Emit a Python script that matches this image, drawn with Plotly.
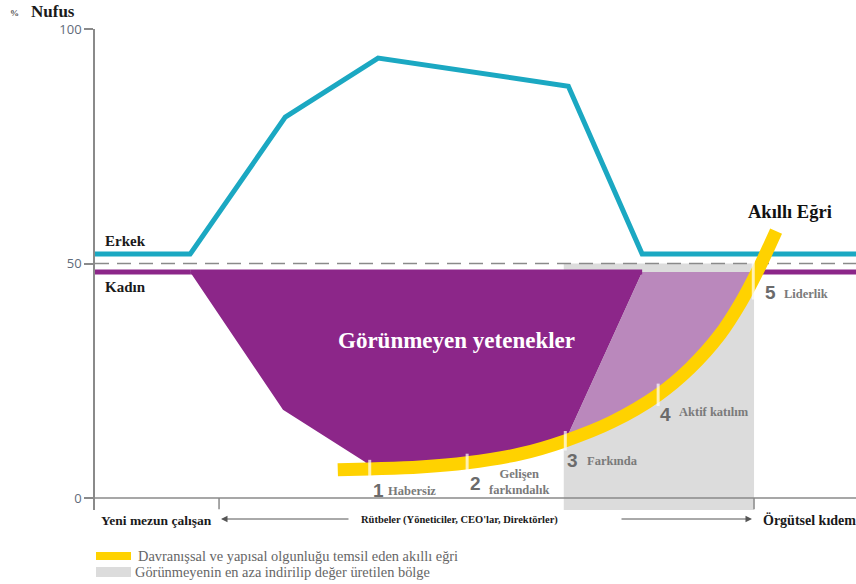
import plotly.graph_objects as go

# ---------------- data ----------------
# x: career position (0 = new graduate ... 100 = senior), y: % of population
erkek_x = [0, 12.5, 25.0, 37.2, 62.2, 71.9, 100]
erkek_y = [52, 52, 81.2, 93.8, 87.8, 52, 52]

kadin_left_x = [0, 12.5]
kadin_right_x = [87.5, 100]
kadin_level = 48.2

# hidden talent (women drop-off) outline, left edge down to the curve
gap_edge_x = [12.5, 24.7, 35.5]
gap_edge_y = [48.2, 18.8, 7.7]
split_top_x = 71.9          # where dark / light purple split meets the top

# smart curve (yellow)
curve_x = [31.9, 36.1, 42.7, 48.9, 55.9, 61.8, 67.9, 74.0, 78.2, 82.1, 84.9, 87.0, 89.5]
curve_y = [6.0, 6.2, 6.6, 7.5, 9.4, 12.2, 16.2, 22.0, 27.7, 34.8, 41.8, 48.2, 56.9]

# stage boundaries on the curve
stage_x = [36.1, 48.9, 61.8, 74.0, 86.5]
stage_y = [6.2, 7.5, 12.2, 22.0, 46.5]
stage_names = ["Habersiz", "Gelişen<br>farkındalık", "Farkında", "Aktif katılım", "Liderlik"]

grey_zone_x = [61.6, 86.6]
grey_zone_y = [-2.56, 50]

axis_ticks_x = [16.3, 86.6]
y_ticks = [0, 50, 100]

BLUE = "#1BA8C2"
PURPLE = "#8C2689"
LIGHT_PURPLE = "#BA88BC"
YELLOW = "#FFD200"
GREY = "#DCDCDC"
SERIF = "Liberation Serif"
SANS = "Liberation Sans"

fig = go.Figure()

# grey zone
gx0, gx1 = grey_zone_x
gy0, gy1 = grey_zone_y
fig.add_trace(go.Scatter(x=[gx0, gx1, gx1, gx0, gx0], y=[gy0, gy0, gy1, gy1, gy0],
                         fill="toself", fillcolor=GREY, line=dict(width=0),
                         mode="lines", hoverinfo="skip", showlegend=False))

# dark purple area (left of split)
i_split = curve_x.index(61.8)
dark_x = gap_edge_x + curve_x[1:i_split + 1] + [split_top_x, gap_edge_x[0]]
dark_y = gap_edge_y + curve_y[1:i_split + 1] + [kadin_level, gap_edge_y[0]]
fig.add_trace(go.Scatter(x=dark_x, y=dark_y, fill="toself", fillcolor=PURPLE,
                         line=dict(width=0), mode="lines", hoverinfo="skip", showlegend=False))

# light purple area (inside grey zone)
i_top = curve_x.index(87.0)
light_x = [curve_x[i_split], split_top_x, curve_x[i_top]] + curve_x[i_split:i_top][::-1]
light_y = [curve_y[i_split], kadin_level, kadin_level] + curve_y[i_split:i_top][::-1]
fig.add_trace(go.Scatter(x=light_x, y=light_y, fill="toself", fillcolor=LIGHT_PURPLE,
                         line=dict(width=0), mode="lines", hoverinfo="skip", showlegend=False))

# 50% dashed line
fig.add_trace(go.Scatter(x=[0, 100], y=[50, 50], mode="lines",
                         line=dict(color="#8a8a8a", width=1.5, dash="14px,8px"),
                         hoverinfo="skip", showlegend=False))

# Kadın line
fig.add_trace(go.Scatter(x=kadin_left_x + [None] + kadin_right_x,
                         y=[kadin_level] * 2 + [None] + [kadin_level] * 2,
                         mode="lines", line=dict(color=PURPLE, width=5),
                         hoverinfo="skip", showlegend=False))
# top edge of the purple area
fig.add_trace(go.Scatter(x=[gap_edge_x[0], split_top_x], y=[kadin_level] * 2,
                         mode="lines", line=dict(color=PURPLE, width=5),
                         hoverinfo="skip", showlegend=False))

# Erkek line
fig.add_trace(go.Scatter(x=erkek_x, y=erkek_y, mode="lines",
                         line=dict(color=BLUE, width=5), hoverinfo="skip", showlegend=False))

# smart curve
fig.add_trace(go.Scatter(x=curve_x, y=curve_y, mode="lines",
                         line=dict(color=YELLOW, width=13, shape="spline", smoothing=1.0),
                         hoverinfo="skip", showlegend=False))
# stage separators
fig.add_trace(go.Scatter(x=stage_x, y=stage_y, mode="markers",
                         marker=dict(symbol="line-ns", size=[13, 13, 14, 16, 28],
                                     line=dict(color="white", width=3)),
                         hoverinfo="skip", showlegend=False))

W, H = 856, 584
L, R, T, B = 95, 0, 29, 74
PW, PH = W - L - R, H - T - B


def px(x):
    return (x - L) / PW


def py(y):
    return (H - B - y) / PH


shapes = []
# x axis line at 0
shapes.append(dict(type="line", xref="x", yref="y", x0=0, x1=100, y0=0, y1=0,
                   line=dict(color="#8a8a8a", width=1.5)))
for tx in axis_ticks_x:
    shapes.append(dict(type="line", xref="x", yref="y", x0=tx, x1=tx, y0=0, y1=-2.4,
                       line=dict(color="#8a8a8a", width=1.5)))
# legend swatches
shapes.append(dict(type="rect", xref="paper", yref="paper", x0=px(96), x1=px(131),
                   y0=py(560), y1=py(552), fillcolor=YELLOW, line=dict(width=0)))
shapes.append(dict(type="rect", xref="paper", yref="paper", x0=px(96), x1=px(131),
                   y0=py(577), y1=py(567), fillcolor=GREY, line=dict(width=0)))

ann = []


def text(t, x, y, size, color="#1a1a1a", bold=True, anchor="left", family=SERIF):
    ann.append(dict(text=f"<b>{t}</b>" if bold else t, x=px(x), y=py(y), xref="paper",
                    yref="paper", showarrow=False, xanchor=anchor, yanchor="middle",
                    font=dict(family=family, size=size, color=color)))


text("%", 8, 13, 9, color="#555")
text("Nufus", 29, 11, 17)
text("Erkek", 103, 241, 15)
text("Kadın", 103, 287, 15)
text("Görünmeyen yetenekler", 456, 340, 23, color="white", anchor="center")
text("Akıllı Eğri", 746, 212, 18.5, color="#111")

num_pos = [(378, 490), (475, 483), (572, 460), (665, 414), (770, 292)]
name_pos = [(386, 491), (487, 482), (585, 461), (677, 412), (782, 294)]
for i, (name, (nx, ny), (tx, ty)) in enumerate(zip(stage_names, num_pos, name_pos)):
    text(str(i + 1), nx, ny, 19, color="#6b6b6b", anchor="center", family=SANS)
    text(name, tx, ty, 12.5, color="#7a7a7a")

text("Yeni mezun çalışan", 99, 520, 13.5)
text("Rütbeler (Yöneticiler, CEO'lar, Direktörler)", 359, 520, 10.5)
text("Örgütsel kıdem", 761, 520, 14)

text("Davranışsal ve yapısal olgunluğu temsil eden akıllı eğri", 136, 556, 14.4,
     color="#666666", bold=False)
text("Görünmeyenin en aza indirilip değer üretilen bölge", 133, 572, 14.4,
     color="#666666", bold=False)

# arrows
ann.append(dict(x=px(221), y=py(519), xref="paper", yref="paper", ax=129, ay=0,
                showarrow=True, arrowhead=2, arrowsize=1.3, arrowwidth=1,
                arrowcolor="#555", text=""))
ann.append(dict(x=px(752), y=py(519), xref="paper", yref="paper", ax=-132, ay=0,
                showarrow=True, arrowhead=2, arrowsize=1.3, arrowwidth=1,
                arrowcolor="#555", text=""))

fig.update_layout(
    width=W, height=H,
    margin=dict(l=L, r=R, t=T, b=B, pad=0),
    paper_bgcolor="white", plot_bgcolor="white",
    xaxis=dict(range=[0, 100], visible=False, fixedrange=True),
    yaxis=dict(range=[-2.56, 100], tickvals=y_ticks, ticktext=[str(v) for v in y_ticks],
               showgrid=False, zeroline=False, showline=True, linecolor="#8a8a8a",
               linewidth=1.5, ticks="outside", ticklen=9, tickcolor="#8a8a8a",
               tickwidth=1.5, tickfont=dict(family="Open Sans", size=13, color="#5f6b7a")),
    shapes=shapes, annotations=ann, showlegend=False,
)

fig.write_html("out.html", config={"displayModeBar": False},
               post_script="document.body.style.margin='0';document.body.style.overflow='hidden';")
